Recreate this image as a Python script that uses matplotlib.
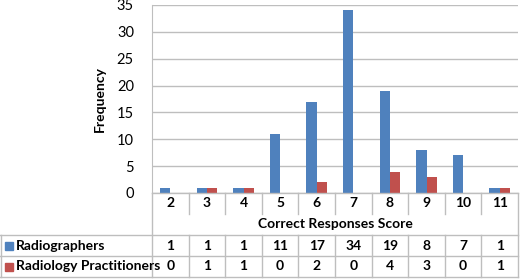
import matplotlib
matplotlib.use("Agg")
import matplotlib.pyplot as plt
from matplotlib.lines import Line2D
from matplotlib.transforms import blended_transform_factory

plt.rcParams['font.family'] = ['Lato', 'DejaVu Sans']

scores = ['2', '3', '4', '5', '6', '7', '8', '9', '10', '11']
radiographers = [1, 1, 1, 11, 17, 34, 19, 8, 7, 1]
practitioners = [0, 1, 1, 0, 2, 0, 4, 3, 0, 1]
series_names = ['Radiographers', 'Radiology Practitioners']
colors = ['#4F81BD', '#C0504D']

W, H = 520, 279
fig = plt.figure(figsize=(W / 100, H / 100), dpi=100)

# plot area in pixels
left, right, top, bottom = 152, 518, 5, 193
ax = fig.add_axes([left / W, 1 - bottom / H, (right - left) / W, (bottom - top) / H])

x = list(range(len(scores)))
bw = 0.28
ax.bar([i - bw / 2 for i in x], radiographers, width=bw, color=colors[0])
ax.bar([i + bw / 2 for i in x], practitioners, width=bw, color=colors[1])

ax.set_xlim(-0.5, len(scores) - 0.5)
ax.set_ylim(0, 35)
ax.set_yticks(range(0, 36, 5))
ax.yaxis.grid(True, color='#BEBEBE', linewidth=1)
ax.set_axisbelow(True)
ax.set_xticks([])
ax.tick_params(axis='y', length=0, pad=13, labelsize=10.5)
for s in ['top', 'right', 'bottom']:
    ax.spines[s].set_visible(False)
ax.spines['left'].set_color('#BEBEBE')
ax.set_ylabel('Frequency', fontsize=10, fontweight='bold', labelpad=8)

line_col = '#BEBEBE'
fs = 10


def fy(py):
    return 1 - py / H


def fx(px):
    return px / W


# zero line
fig.add_artist(Line2D([fx(left), fx(right)], [fy(bottom), fy(bottom)], color=line_col, lw=1))

# data table below the axis
trans = blended_transform_factory(ax.transData, fig.transFigure)
cat_bottom = 214
row_lines = [235, 256, 277]

fig.add_artist(Line2D([fx(left), fx(left)], [fy(bottom), fy(277)], color=line_col, lw=1))
fig.add_artist(Line2D([fx(right), fx(right)], [fy(bottom), fy(277)], color=line_col, lw=1))
fig.add_artist(Line2D([fx(0.5), fx(0.5)], [fy(235), fy(277)], color=line_col, lw=1))
for ry in row_lines:
    fig.add_artist(Line2D([fx(0), fx(right)], [fy(ry), fy(ry)], color=line_col, lw=1))

for i, lab in enumerate(scores):
    fig.text(i, fy(203), lab, transform=trans, ha='center', va='center',
             fontsize=fs, fontweight='bold')
    if i < len(scores) - 1:
        fig.add_artist(Line2D([i + 0.5, i + 0.5], [fy(bottom), fy(cat_bottom)],
                              transform=trans, color=line_col, lw=1))
        fig.add_artist(Line2D([i + 0.5, i + 0.5], [fy(235), fy(277)],
                              transform=trans, color=line_col, lw=1))

fig.text((fx(left) + fx(right)) / 2, fy(224), 'Correct Responses Score',
         ha='center', va='center', fontsize=fs, fontweight='bold')

rows = [radiographers, practitioners]
row_centers = [245.5, 266.5]
for vals, name, col, ry in zip(rows, series_names, colors, row_centers):
    fig.add_artist(plt.Rectangle((fx(5), fy(ry + 4)), 8 / W, 8 / H,
                                 transform=fig.transFigure, color=col))
    fig.text(fx(16), fy(ry), name, ha='left', va='center',
             fontsize=fs, fontweight='bold')
    for i, v in enumerate(vals):
        fig.text(i, fy(ry), str(v), transform=trans, ha='center', va='center',
                 fontsize=fs, fontweight='bold')

fig.savefig('out.png', dpi=100)
